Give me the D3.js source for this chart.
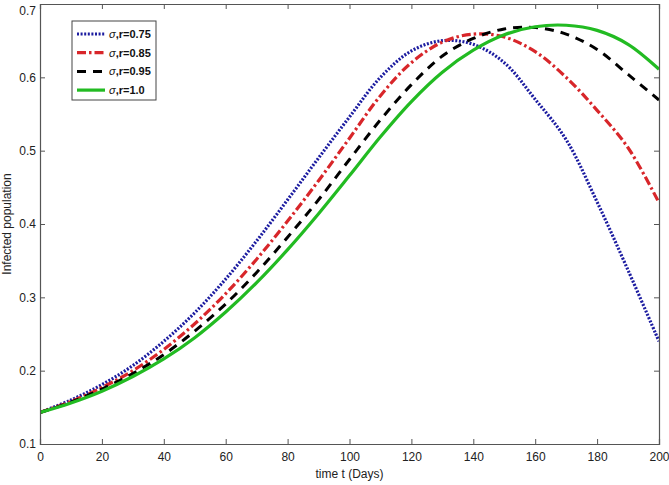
<!DOCTYPE html>
<html><head><meta charset="utf-8">
<script src="https://cdn.jsdelivr.net/npm/d3@7"></script>
<style>body{margin:0;background:#fff}svg{display:block}text{font-family:"Liberation Sans",Arial,sans-serif}</style>
</head><body><svg id="c" width="669" height="485"></svg>
<script>
const days = [0,10,20,30,40,50,60,70,80,90,100,110,120,130,140,150,160,170,180,190,200];
const s075 = [0.143,0.160,0.181,0.207,0.240,0.279,0.325,0.377,0.433,0.490,0.546,0.600,0.636,0.650,0.645,0.620,0.570,0.515,0.430,0.337,0.240];
const s085 = [0.143,0.158,0.177,0.200,0.229,0.264,0.305,0.352,0.404,0.459,0.517,0.575,0.620,0.648,0.659,0.655,0.635,0.600,0.555,0.504,0.429];
const s095 = [0.143,0.157,0.175,0.196,0.222,0.254,0.291,0.334,0.382,0.433,0.488,0.542,0.590,0.629,0.653,0.666,0.668,0.659,0.638,0.604,0.569];
const s100 = [0.143,0.156,0.172,0.192,0.216,0.245,0.280,0.320,0.365,0.414,0.466,0.519,0.567,0.607,0.637,0.658,0.669,0.671,0.664,0.645,0.611];
const seriesNames = ["σ,r=0.75","σ,r=0.85","σ,r=0.95","σ,r=1.0"];
const xTicks = [0,20,40,60,80,100,120,140,160,180,200];
const yTicks = [0.1,0.2,0.3,0.4,0.5,0.6,0.7];

const styles = [
  {color:"#1c1ca0", width:3.2, dash:"2,1.6"},
  {color:"#d8262a", width:3.2, dash:"9,3,2.5,3"},
  {color:"#000000", width:3, dash:"9,7"},
  {color:"#22bb22", width:3.2, dash:null}
];
const data = [s075,s085,s095,s100];

const svg = d3.select("#c");
const L=40,R=659,T=4,B=444;
const x = d3.scaleLinear().domain([0,200]).range([L,R]);
const y = d3.scaleLinear().domain([0.1,0.7]).range([B,T]);

svg.append("clipPath").attr("id","pc").append("rect").attr("x",L).attr("y",T).attr("width",R-L).attr("height",B-T);

const line = d3.line().x((d,i)=>x(days[i])).y(d=>y(d)).curve(d3.curveCatmullRom.alpha(0.5));
const g = svg.append("g").attr("clip-path","url(#pc)");
data.forEach((s,k)=>{
  g.append("path").attr("d",line(s)).attr("fill","none")
   .attr("stroke",styles[k].color).attr("stroke-width",styles[k].width)
   .attr("stroke-dasharray",styles[k].dash);
});

const ax = "#555";
const axBottom = svg.append("g").attr("transform",`translate(0,${B})`).call(d3.axisBottom(x).tickValues(xTicks).tickSize(-5).tickPadding(8).tickFormat(d3.format("d")));
const axTop = svg.append("g").attr("transform",`translate(0,${T})`).call(d3.axisTop(x).tickValues(xTicks).tickSize(-5).tickFormat(""));
const axLeft = svg.append("g").attr("transform",`translate(${L},0)`).call(d3.axisLeft(y).tickValues(yTicks).tickSize(-5).tickPadding(4).tickFormat(d3.format(".1f")));
const axRight = svg.append("g").attr("transform",`translate(${R},0)`).call(d3.axisRight(y).tickValues(yTicks).tickSize(-5).tickFormat(""));
[axBottom,axTop,axLeft,axRight].forEach(a=>{
  a.selectAll("path").attr("stroke",ax).attr("stroke-width",1.2);
  a.selectAll("line").attr("stroke",ax);
  a.selectAll("text").attr("fill","#222").style("font-size","12px");
});
axLeft.selectAll(".tick").filter(d=>d===0.7).select("text").attr("dy","0.85em");

svg.append("text").attr("x",(L+R)/2).attr("y",478).attr("text-anchor","middle").style("font-size","12px").attr("fill","#222").text("time t (Days)");
svg.append("text").attr("transform",`translate(11,${(T+B)/2}) rotate(-90)`).attr("text-anchor","middle").style("font-size","12px").attr("fill","#222").text("Infected population");

const lg = svg.append("g");
lg.append("rect").attr("x",72).attr("y",21).attr("width",84).attr("height",79).attr("fill","#fff").attr("stroke","#444").attr("stroke-width",1);
seriesNames.forEach((n,k)=>{
  const yy = 34 + k*18.7;
  lg.append("line").attr("x1",77).attr("x2",105).attr("y1",yy).attr("y2",yy)
    .attr("stroke",styles[k].color).attr("stroke-width",styles[k].width).attr("stroke-dasharray",styles[k].dash);
  const t = lg.append("text").attr("x",109).attr("y",yy+4).style("font-size","11px").style("font-weight","bold").attr("fill","#111");
  t.append("tspan").style("font-style","italic").style("font-weight","normal").text(n[0]);
  t.append("tspan").text(n.slice(1));
});
</script></body></html>
